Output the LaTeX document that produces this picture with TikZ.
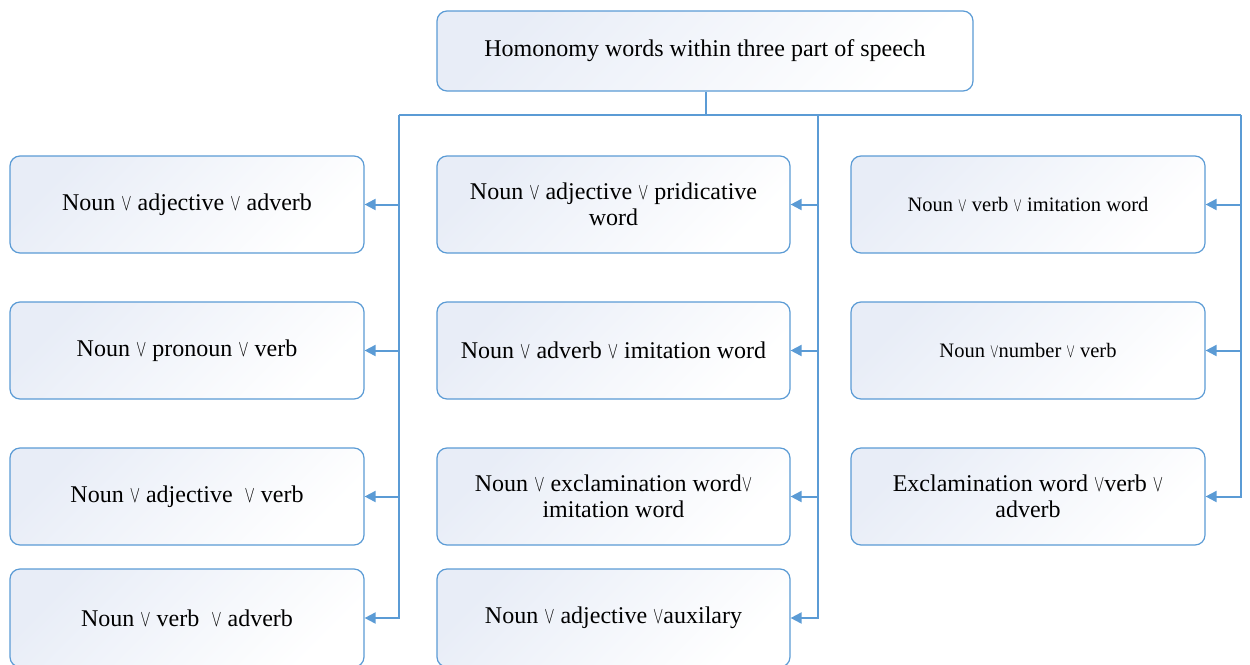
\documentclass[tikz,border=0pt]{standalone}
\usepackage{fontspec}
\setmainfont{Liberation Serif}
\usetikzlibrary{arrows.meta}
\definecolor{lineblue}{RGB}{91,155,213}
\definecolor{boxfill}{RGB}{232,237,247}
\newcommand{\orv}{\scalebox{0.62}[0.95]{$\vee$}}
\tikzset{
  box/.style={draw=lineblue, line width=1.2pt, rounded corners=10pt,
    top color=boxfill, bottom color=white, shading angle=45,
    minimum width=354pt, minimum height=97pt, align=center,
    font=\fontsize{24}{26}\selectfont, inner sep=0pt},
  smalltext/.style={font=\fontsize{20.5}{24}\selectfont},
  conn/.style={draw=lineblue, line width=2pt},
  arr/.style={conn, -{Triangle[length=11pt,width=11pt]}}
}
\begin{document}
\begin{tikzpicture}[x=1pt,y=-1pt]
\useasboundingbox (0,0) rectangle (1250,664);
% top
\node[box, minimum width=536pt, minimum height=80pt] (top) at (705,51) {Homonomy words within three part of speech};
% left column
\node[box] (L1) at (187,204.5) {Noun \orv\ adjective \orv\ adverb};
\node[box] (L2) at (187,350.5) {Noun \orv\ pronoun \orv\ verb};
\node[box] (L3) at (187,496.5) {Noun \orv\ adjective\ \ \orv\ verb};
\node[box, minimum height=98pt] (L4) at (187,618) {Noun \orv\ verb\ \ \orv\ adverb};
% middle column
\node[box, minimum width=353pt] (M1) at (613.5,204.5) {Noun \orv\ adjective \orv\ pridicative\\word};
\node[box, minimum width=353pt] (M2) at (613.5,350.5) {Noun \orv\ adverb \orv\ imitation word};
\node[box, minimum width=353pt] (M3) at (613.5,496.5) {Noun \orv\ exclamination word\orv\\imitation word};
\node[box, minimum width=353pt, minimum height=98pt] (M4) at (613.5,618) {Noun \orv\ adjective \orv auxilary};
% right column
\node[box, smalltext] (R1) at (1028,204.5) {Noun \orv\ verb \orv\ imitation word};
\node[box, smalltext] (R2) at (1028,350.5) {Noun \orv number \orv\ verb};
\node[box] (R3) at (1028,496.5) {Exclamination word \orv verb \orv\\adverb};
% trunk
\coordinate (j) at (706,115);
\coordinate (jl) at (399,115);
\coordinate (jm) at (818,115);
\coordinate (jr) at (1241,115);
\draw[conn] (top.south -| j) -- (j);
\draw[conn] (jl) -- (jr);
% branches
\foreach \n in {L1,L2,L3,L4} \draw[arr] (jl) |- (\n.east);
\foreach \n in {M1,M2,M3,M4} \draw[arr] (jm) |- (\n.east);
\foreach \n in {R1,R2,R3} \draw[arr] (jr) |- (\n.east);
\end{tikzpicture}
\end{document}
